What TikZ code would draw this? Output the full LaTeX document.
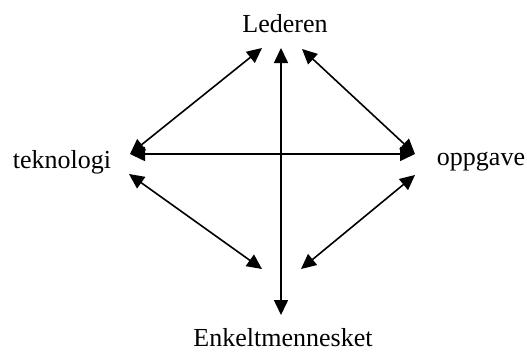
\documentclass[tikz,border=0pt]{standalone}
\usepackage{fontspec}
\setmainfont{Liberation Serif}
\usetikzlibrary{arrows.meta}
\begin{document}
\begin{tikzpicture}[x=1pt,y=-1pt,
  lbl/.style={inner sep=0pt,font=\fontsize{26}{30}\selectfont},
  link/.style={line width=1.6pt,{Triangle[length=15pt,width=14pt]}-{Triangle[length=15pt,width=14pt]}}]
\useasboundingbox (0,0) rectangle (527,356);
\node[lbl] (led) at (285,24) {Lederen};
\node[lbl] (tek) at (62,162) {teknologi};
\node[lbl] (opp) at (481,162) {oppgave};
\node[lbl] (enk) at (283,338) {Enkeltmennesket};
\coordinate (tl) at (262,48);
\coordinate (tc) at (281,48);
\coordinate (tr) at (302,49);
\coordinate (lh) at (130,154);
\coordinate (ll) at (129,174);
\coordinate (rh) at (415,154);
\coordinate (rl) at (415,175);
\coordinate (bl) at (262,269);
\coordinate (bc) at (281,315);
\coordinate (br) at (301,269);
\draw[link] (lh) -- (tl);
\draw[link] (tr) -- (rh);
\draw[link] (ll) -- (bl);
\draw[link] (br) -- (rl);
\draw[link] (tc) -- (bc);
\draw[link] (lh) -- (rh);
\end{tikzpicture}
\end{document}
